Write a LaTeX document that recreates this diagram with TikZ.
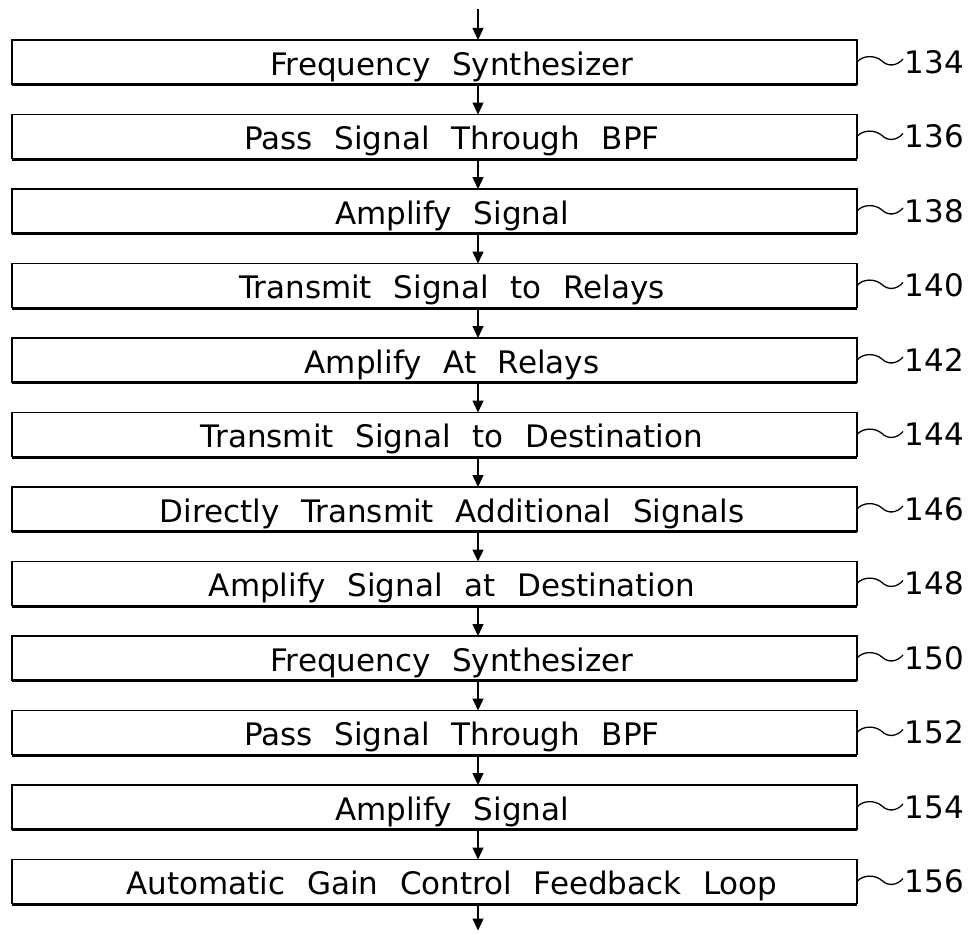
\documentclass[tikz,border=0pt]{standalone}
\usepackage{fontspec}
\setmainfont{DejaVu Sans}[WordSpace=2.2]
\usetikzlibrary{positioning,arrows.meta}

\def\wave{.. controls +(6,-7) and +(-7,-6) .. ++(25,-1) .. controls +(6,6) and +(-6,7) .. ++(21,-2)}
\def\ax{43.5pt}

\tikzset{
  stepbox/.style={draw, line width=1.4pt, minimum width=845pt, minimum height=44pt,
    inner sep=0pt, outer sep=0pt,
    append after command={([yshift=-0.8pt]\tikzlastnode.south west) edge[line width=3pt] ([yshift=-0.8pt]\tikzlastnode.south east)}},
  steptext/.style={anchor=base, inner sep=0pt, xshift=17.5pt, yshift=-13pt},
  refnum/.style={anchor=west, inner sep=1pt, yshift=-3pt},
  flow/.style={line width=1.4pt, -{Triangle[length=12pt,width=11pt]}},
}

\begin{document}
\begin{tikzpicture}[x=1pt, y=-1pt, font=\fontsize{31}{36}\selectfont]
  \useasboundingbox (0,0) rectangle (974,934);

  % boxes
  \node[stepbox] (s134) at (434.5,62) {};
  \node[stepbox, below=30.5pt of s134] (s136) {};
  \node[stepbox, below=30.5pt of s136] (s138) {};
  \node[stepbox, below=30.5pt of s138] (s140) {};
  \node[stepbox, below=30.5pt of s140] (s142) {};
  \node[stepbox, below=30.5pt of s142] (s144) {};
  \node[stepbox, below=30.5pt of s144] (s146) {};
  \node[stepbox, below=30.5pt of s146] (s148) {};
  \node[stepbox, below=30.5pt of s148] (s150) {};
  \node[stepbox, below=30.5pt of s150] (s152) {};
  \node[stepbox, below=30.5pt of s152] (s154) {};
  \node[stepbox, below=30.5pt of s154] (s156) {};

  % texts
  \node[steptext] (t134) at (s134) {Frequency Synthesizer};
  \node[steptext] (t136) at (s136) {Pass Signal Through BPF};
  \node[steptext] (t138) at (s138) {Amplify Signal};
  \node[steptext] (t140) at (s140) {Transmit Signal to Relays};
  \node[steptext] (t142) at (s142) {Amplify At Relays};
  \node[steptext] (t144) at (s144) {Transmit Signal to Destination};
  \node[steptext] (t146) at (s146) {Directly Transmit Additional Signals};
  \node[steptext] (t148) at (s148) {Amplify Signal at Destination};
  \node[steptext] (t150) at (s150) {Frequency Synthesizer};
  \node[steptext] (t152) at (s152) {Pass Signal Through BPF};
  \node[steptext] (t154) at (s154) {Amplify Signal};
  \node[steptext] (t156) at (s156) {Automatic Gain Control Feedback Loop};

  % arrows
  \coordinate (start) at (478,9);
  \coordinate (stop) at ([xshift=\ax,yshift=-27pt]s156.south);
  \draw[flow] (start) -- ([xshift=\ax]s134.north);
  \draw[flow] ([xshift=\ax]s134.south) -- ([xshift=\ax]s136.north);
  \draw[flow] ([xshift=\ax]s136.south) -- ([xshift=\ax]s138.north);
  \draw[flow] ([xshift=\ax]s138.south) -- ([xshift=\ax]s140.north);
  \draw[flow] ([xshift=\ax]s140.south) -- ([xshift=\ax]s142.north);
  \draw[flow] ([xshift=\ax]s142.south) -- ([xshift=\ax]s144.north);
  \draw[flow] ([xshift=\ax]s144.south) -- ([xshift=\ax]s146.north);
  \draw[flow] ([xshift=\ax]s146.south) -- ([xshift=\ax]s148.north);
  \draw[flow] ([xshift=\ax]s148.south) -- ([xshift=\ax]s150.north);
  \draw[flow] ([xshift=\ax]s150.south) -- ([xshift=\ax]s152.north);
  \draw[flow] ([xshift=\ax]s152.south) -- ([xshift=\ax]s154.north);
  \draw[flow] ([xshift=\ax]s154.south) -- ([xshift=\ax]s156.north);
  \draw[flow] ([xshift=\ax]s156.south) -- (stop);

  % reference numerals
  \draw[line width=1.3pt] (s134.east) \wave node[refnum] (n134) {134};
  \draw[line width=1.3pt] (s136.east) \wave node[refnum] (n136) {136};
  \draw[line width=1.3pt] (s138.east) \wave node[refnum] (n138) {138};
  \draw[line width=1.3pt] (s140.east) \wave node[refnum] (n140) {140};
  \draw[line width=1.3pt] (s142.east) \wave node[refnum] (n142) {142};
  \draw[line width=1.3pt] (s144.east) \wave node[refnum] (n144) {144};
  \draw[line width=1.3pt] (s146.east) \wave node[refnum] (n146) {146};
  \draw[line width=1.3pt] (s148.east) \wave node[refnum] (n148) {148};
  \draw[line width=1.3pt] (s150.east) \wave node[refnum] (n150) {150};
  \draw[line width=1.3pt] (s152.east) \wave node[refnum] (n152) {152};
  \draw[line width=1.3pt] (s154.east) \wave node[refnum] (n154) {154};
  \draw[line width=1.3pt] (s156.east) \wave node[refnum] (n156) {156};
\end{tikzpicture}
\end{document}
